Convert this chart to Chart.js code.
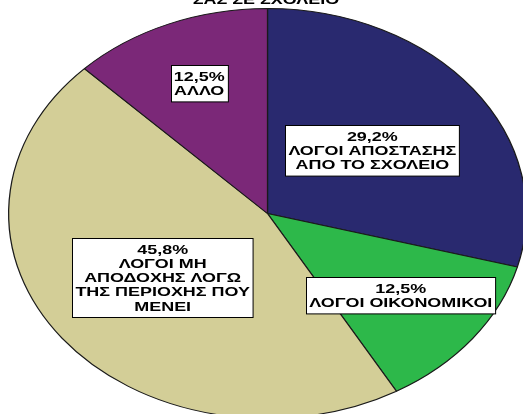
<!DOCTYPE html>
<html>
<head>
<meta charset="utf-8">
<script src="https://cdn.jsdelivr.net/npm/chart.js@4.4.1/dist/chart.umd.min.js"></script>
<style>
  html, body { margin: 0; padding: 0; background: #fff; overflow: hidden; }
  #wrap { width: 523px; height: 414px; overflow: hidden; }
</style>
</head>
<body>
<div id="wrap"><canvas id="myChart" width="523" height="440"></canvas></div>
<script>
const title = 'ΣΑΣ ΣΕ ΣΧΟΛΕΙΟ';
const categories = [
    'ΛΟΓΟΙ ΑΠΟΣΤΑΣΗΣ ΑΠΟ ΤΟ ΣΧΟΛΕΙΟ',
    'ΛΟΓΟΙ ΟΙΚΟΝΟΜΙΚΟΙ',
    'ΛΟΓΟΙ ΜΗ ΑΠΟΔΟΧΗΣ ΛΟΓΩ ΤΗΣ ΠΕΡΙΟΧΗΣ ΠΟΥ ΜΕΝΕΙ',
    'ΑΛΛΟ'
];
const labelLines = [
    ['ΛΟΓΟΙ ΑΠΟΣΤΑΣΗΣ', 'ΑΠΟ ΤΟ ΣΧΟΛΕΙΟ'],
    ['ΛΟΓΟΙ ΟΙΚΟΝΟΜΙΚΟΙ'],
    ['ΛΟΓΟΙ ΜΗ', 'ΑΠΟΔΟΧΗΣ ΛΟΓΩ', 'ΤΗΣ ΠΕΡΙΟΧΗΣ ΠΟΥ', 'ΜΕΝΕΙ'],
    ['ΑΛΛΟ']
];
const percents = [29.2, 12.5, 45.8, 12.5];
const colors = ['#29296f', '#2db84a', '#d3ce97', '#7b2878'];

const ctx = document.getElementById('myChart');

// the picture is an ellipse: stretch the pie sideways around its centre
const stretch = 259.5 / 205.5;
const textScale = 1.32;
const labelRadius = [0.51, 0.65, 0.51, 0.69];

const ellipse = {
    id: 'ellipse',
    beforeDatasetsDraw(chart) {
        const arc = chart.getDatasetMeta(0).data[0];
        const c = chart.ctx;
        c.save();
        c.translate(arc.x, arc.y);
        c.scale(stretch, 1);
        c.translate(-arc.x, -arc.y);
    },
    afterDatasetsDraw(chart) {
        chart.ctx.restore();
    }
};

function drawText(c, text, x, y) {
    c.save();
    c.translate(x, y);
    c.scale(textScale, 1);
    c.fillText(text, 0, 0);
    c.restore();
}

const boxLabels = {
    id: 'boxLabels',
    afterDraw(chart) {
        const c = chart.ctx;
        const meta = chart.getDatasetMeta(0);
        c.save();
        c.font = 'bold 13.6px "Liberation Sans", Arial, sans-serif';
        c.textAlign = 'center';
        c.textBaseline = 'middle';
        c.fillStyle = '#000';

        meta.data.forEach(function (arc, i) {
            const p = arc.getProps(['x', 'y', 'startAngle', 'endAngle', 'outerRadius'], true);
            const mid = (p.startAngle + p.endAngle) / 2;
            const r = p.outerRadius * labelRadius[i];
            const cx = p.x + Math.cos(mid) * r * stretch;
            const cy = p.y + Math.sin(mid) * r;

            const lines = [percents[i].toFixed(1).replace('.', ',') + '%'].concat(labelLines[i]);
            const lh = 14.2;
            let w = 0;
            lines.forEach(l => { w = Math.max(w, c.measureText(l).width * textScale); });
            w += 6;
            const h = lines.length * lh + 8;
            const left = Math.round(cx - w / 2) + 0.5;
            const top = Math.round(cy - h / 2) + 0.5;

            c.fillStyle = '#fff';
            c.fillRect(left, top, w, h);
            c.strokeStyle = '#000';
            c.lineWidth = 1;
            c.strokeRect(left, top, w, h);

            c.fillStyle = '#000';
            lines.forEach((l, k) => {
                drawText(c, l, cx, top + 4 + lh * k + lh / 2 + 0.5);
            });
        });

        c.textBaseline = 'alphabetic';
        drawText(c, title, 266, 3.5);
        c.restore();
    }
};

const chart = new Chart(ctx, {
    type: 'pie',
    data: {
        labels: categories,
        datasets: [{
            data: percents,
            backgroundColor: colors,
            borderColor: '#1a1a1a',
            borderWidth: 1
        }]
    },
    options: {
        responsive: false,
        animation: false,
        events: [],
        layout: {
            padding: { left: 62, right: 50, top: 8, bottom: 21 }
        },
        plugins: {
            legend: { display: false },
            tooltip: { enabled: false },
            title: { display: false }
        }
    },
    plugins: [ellipse, boxLabels]
});
</script>
</body>
</html>
